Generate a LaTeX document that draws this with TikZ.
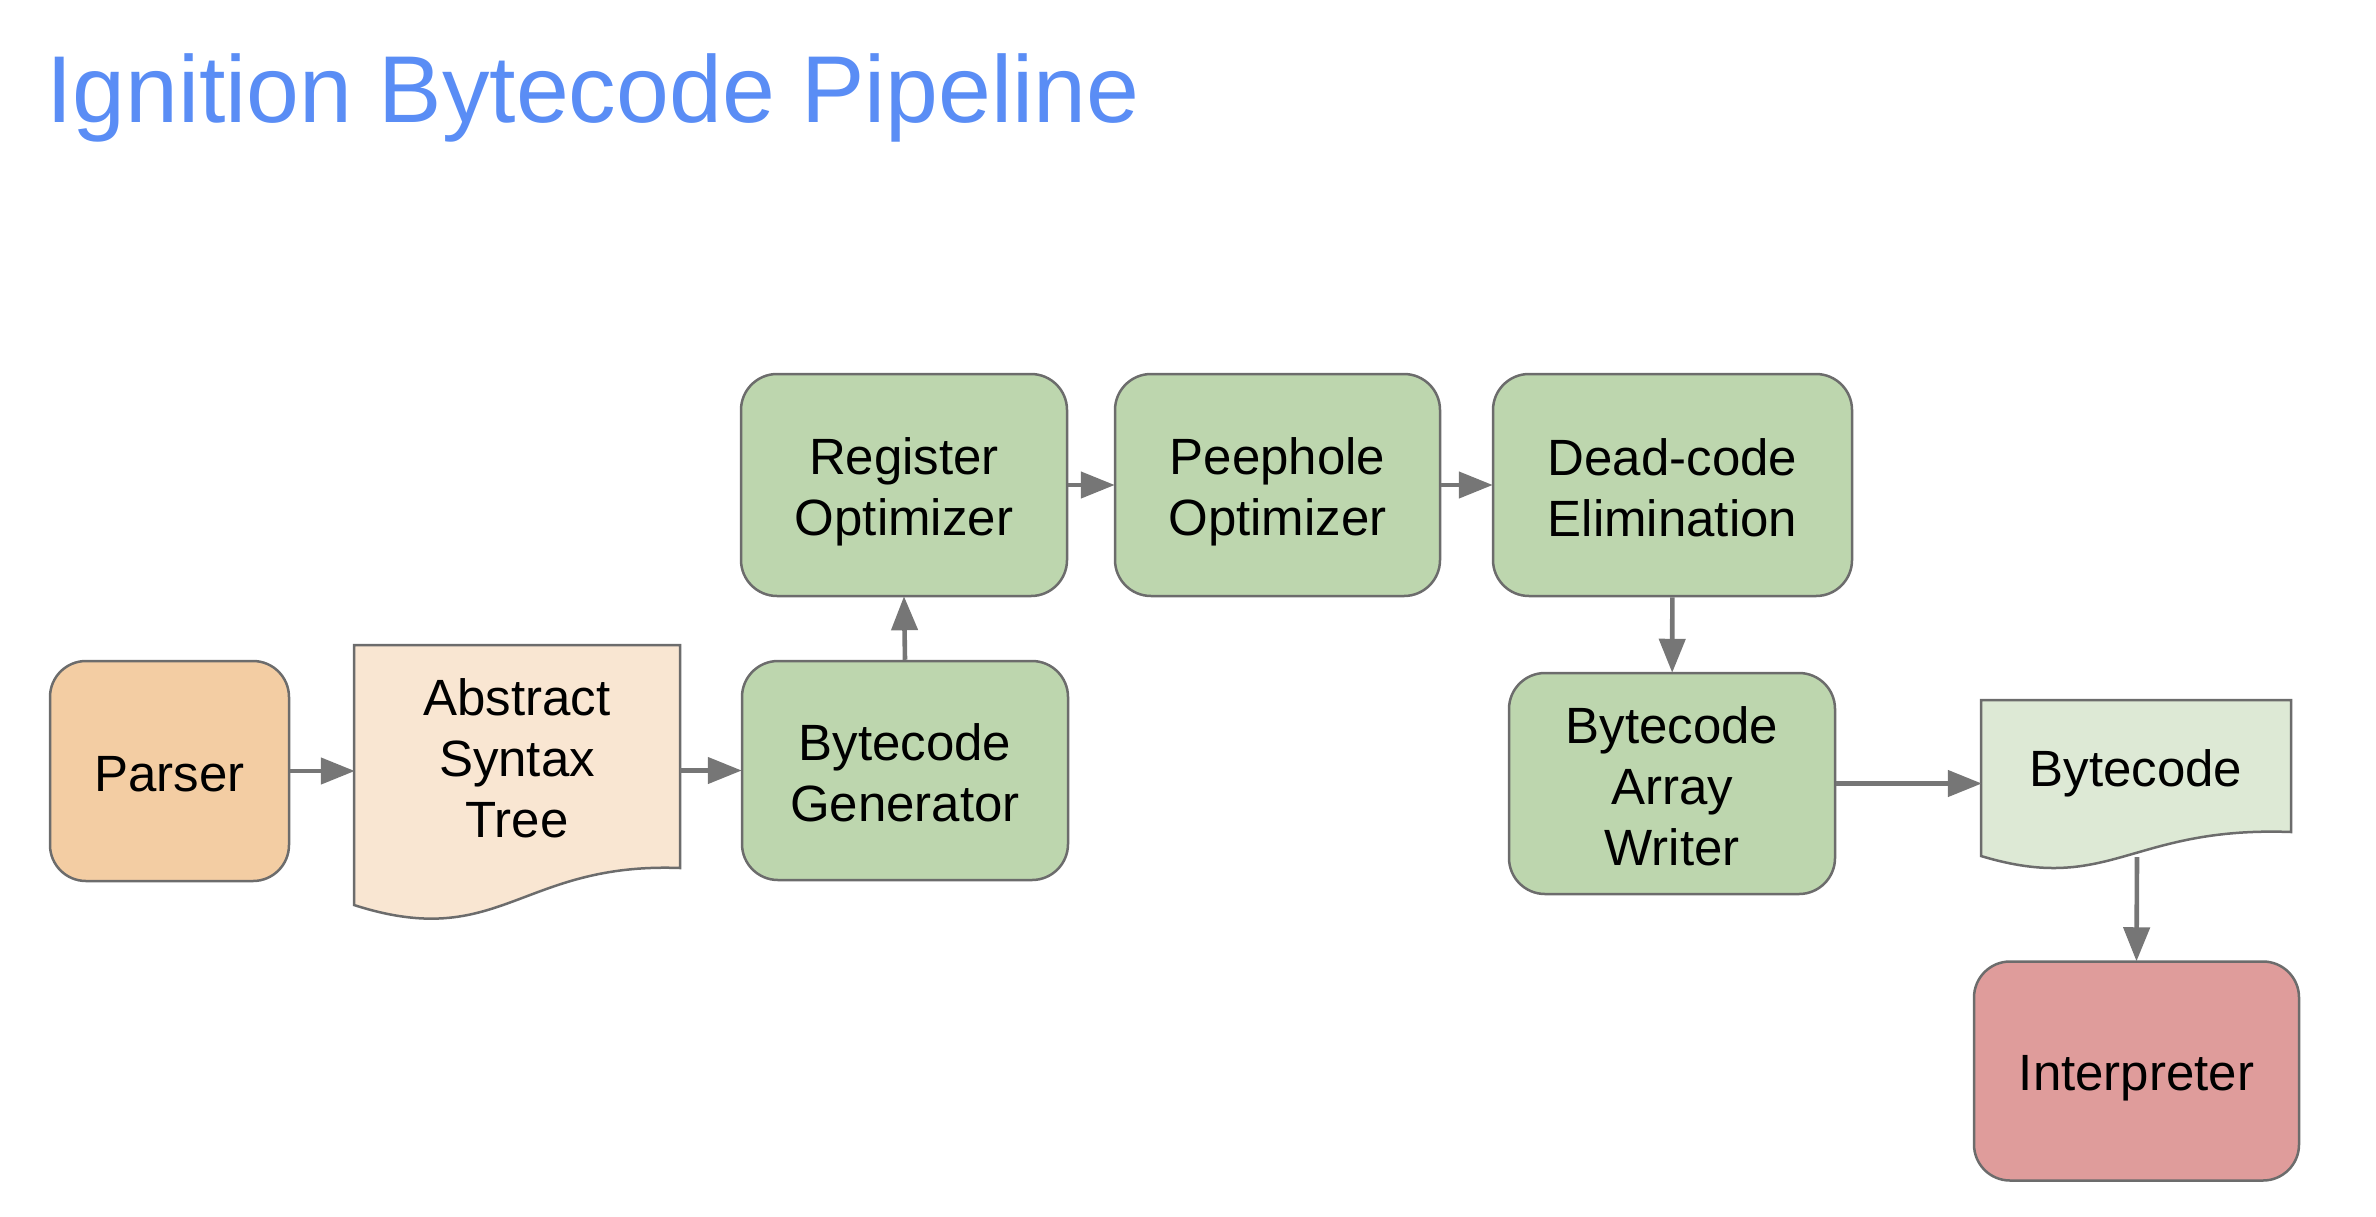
\documentclass[tikz,border=0pt]{standalone}
\usepackage{fontspec}
\setmainfont{Liberation Sans}
\usetikzlibrary{arrows.meta}
\definecolor{titleblue}{HTML}{5A8DF5}
\definecolor{bordc}{HTML}{6C6C6C}
\definecolor{arrc}{HTML}{767676}
\definecolor{parserfill}{HTML}{F3CDA3}
\definecolor{astfill}{HTML}{F9E6D2}
\definecolor{greenfill}{HTML}{BDD6AE}
\definecolor{bcfill}{HTML}{DDE9D5}
\definecolor{interpfill}{HTML}{DF9C9B}
\newcommand{\lnstrut}{\rule[-9pt]{0pt}{59pt}}
\begin{document}
\begin{tikzpicture}[x=1pt,y=-1pt,
  box/.style={draw=bordc, line width=2.5pt, rounded corners=36pt, align=center,
    font=\fontsize{51}{61}\selectfont, inner sep=0pt},
  doclabel/.style={align=center, font=\fontsize{51}{61}\selectfont, inner sep=0pt},
  docshape/.style={draw=bordc, line width=2.5pt, line join=miter},
  arr/.style={draw=arrc, line width=4.6pt, -{Triangle[length=34pt,width=26pt]}, shorten >=-1pt}]
\useasboundingbox (0,0) rectangle (2376,1216);

% title
\node[anchor=base west, inner sep=0pt, text=titleblue, font=\fontsize{95}{110}\selectfont] (title) at (46,122) {Ignition Bytecode Pipeline};

% rounded boxes
\node[box, fill=parserfill, minimum width=239pt, minimum height=220pt] (parser) at (169.5,771) {\lnstrut Parser};
\node[box, fill=greenfill, minimum width=326pt, minimum height=219pt] (bg) at (905,770.5) {\lnstrut Bytecode\\\lnstrut Generator};
\node[box, fill=greenfill, minimum width=326pt, minimum height=222pt] (reg) at (904,485) {\lnstrut Register\\\lnstrut Optimizer};
\node[box, fill=greenfill, minimum width=325pt, minimum height=222pt] (peep) at (1277.5,485) {\lnstrut Peephole\\\lnstrut Optimizer};
\node[box, fill=greenfill, minimum width=359pt, minimum height=222pt] (dead) at (1672.5,485) {\lnstrut Dead-code\\\lnstrut Elimination};
\node[box, fill=greenfill, minimum width=326pt, minimum height=221pt] (baw) at (1672,783.5) {\lnstrut Bytecode\\\lnstrut Array\\\lnstrut Writer};
\node[box, fill=interpfill, minimum width=325pt, minimum height=219pt] (interp) at (2136.5,1071) {\lnstrut Interpreter};

% document shapes
\path[docshape, fill=astfill] (354,645) -- (680,645) -- (680,868)
  .. controls (520,862) and (500,952) .. (354,905) -- cycle;
\node[doclabel, minimum width=326pt, minimum height=223pt] (ast) at (517,756) {\lnstrut Abstract\\\lnstrut Syntax\\\lnstrut Tree};

\path[docshape, fill=bcfill] (1981,700) -- (2291,700) -- (2291,832)
  .. controls (2130,826) and (2110,895) .. (1981,856) -- cycle;
\node[doclabel, minimum width=310pt, minimum height=132pt] (bcdoc) at (2136,767) {\lnstrut Bytecode};
\coordinate (bcwave) at (2137,857);

% connectors
\draw[arr] (parser.east) -- (parser.east -| ast.west);
\draw[arr] (ast.east |- bg.west) -- (bg.west);
\draw[arr] (bg.north) -- (reg.south);
\draw[arr] (reg) -- (peep);
\draw[arr] (peep) -- (dead);
\draw[arr] (dead) -- (baw);
\draw[arr] (baw.east) -- (baw.east -| bcdoc.west);
\draw[arr] (bcwave) -- (interp.north);
\end{tikzpicture}
\end{document}
